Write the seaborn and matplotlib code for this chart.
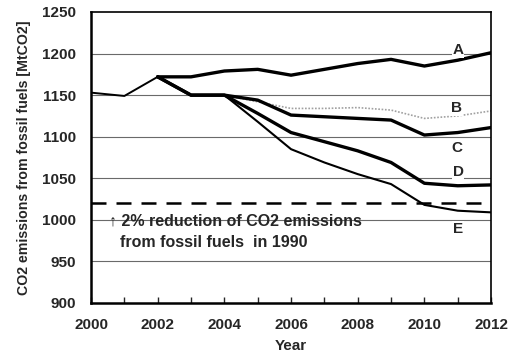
import matplotlib
matplotlib.use("Agg")
import matplotlib.pyplot as plt
import seaborn as sns
import pandas as pd

# Emissions history and scenario paths (MtCO2)
years_hist = [2000, 2001, 2002]
hist = [1153, 1149, 1172]

years_a = [2002, 2003, 2004, 2005, 2006, 2007, 2008, 2009, 2010, 2011, 2012]
scen_a = [1172, 1172, 1179, 1181, 1174, 1181, 1188, 1193, 1185, 1192, 1201]

years_be = [2002, 2003, 2004, 2005, 2006, 2007, 2008, 2009, 2010, 2011, 2012]
scen_b = [1172, 1150, 1150, 1142, 1134, 1134, 1135, 1132, 1122, 1125, 1131]
scen_c = [1172, 1150, 1150, 1144, 1126, 1124, 1122, 1120, 1102, 1105, 1111]
scen_d = [1172, 1150, 1150, 1128, 1105, 1094, 1083, 1069, 1044, 1041, 1042]
scen_e = [1172, 1150, 1150, 1118, 1085, 1069, 1055, 1043, 1018, 1011, 1009]

target_1990 = 1020.5
scenario_labels = ["A", "B", "C", "D", "E"]
label_pos = [(2010.85, 1204), (2010.8, 1134), (2010.8, 1086), (2010.85, 1057), (2010.85, 989)]

sns.set_theme(style="white")
plt.rcParams["font.family"] = ["Liberation Sans", "DejaVu Sans"]
plt.rcParams["font.weight"] = "bold"

fig = plt.figure(figsize=(5.18, 3.61), dpi=100)
ax = fig.add_axes([0.1757, 0.1607, 0.7723, 0.8061])

# horizontal grid
for v in [950, 1000, 1050, 1100, 1150, 1200]:
    ax.axhline(v, color="#6a6a6a", lw=0.8, zorder=0)

series = [
    (years_hist, hist, dict(color="black", lw=1.4)),
    (years_a, scen_a, dict(color="black", lw=2.4)),
    (years_be, scen_b, dict(color="#a0a0a0", lw=1.2, linestyle=(0, (1, 1)))),
    (years_be, scen_c, dict(color="black", lw=2.4)),
    (years_be, scen_d, dict(color="black", lw=2.4)),
    (years_be, scen_e, dict(color="black", lw=1.5)),
]
for xs, ys, kw in series:
    df = pd.DataFrame({"Year": xs, "Emission": ys})
    sns.lineplot(data=df, x="Year", y="Emission", ax=ax, legend=False, **kw)

ax.axhline(target_1990, color="black", lw=1.8, linestyle=(0, (6, 4)), zorder=3)

for lab, (x, y) in zip(scenario_labels, label_pos):
    ax.text(x, y, lab, fontsize=11, fontweight="bold", ha="left", va="center",
            bbox=dict(facecolor="white", edgecolor="none", pad=0.5))

ax.text(2000.55, 999, "\u2191 2% reduction of CO2 emissions",
        fontsize=11.5, fontweight="bold", ha="left", va="center",
        family=["Liberation Sans", "DejaVu Sans"])
ax.text(2000.88, 973, "from fossil fuels  in 1990",
        fontsize=11.5, fontweight="bold", ha="left", va="center")

ax.set_xlim(2000, 2012)
ax.set_ylim(900, 1250)
ax.set_xticks(range(2000, 2013, 2))
ax.set_xticks(range(2000, 2013), minor=True)
ax.set_yticks(range(900, 1251, 50))
ax.tick_params(axis="x", which="both", direction="in", length=4, width=1, bottom=True, labelsize=11, pad=11)
ax.tick_params(axis="y", length=0, labelsize=11, pad=11)
for lbl in ax.get_xticklabels() + ax.get_yticklabels():
    lbl.set_fontweight("bold")

ax.set_xlabel("Year", fontsize=11, fontweight="bold", labelpad=5)
ax.set_ylabel("CO2 emissions from fossil fuels [MtCO2]", fontsize=10.2, fontweight="bold", labelpad=8)

for side in ["left", "bottom"]:
    ax.spines[side].set_linewidth(1.8)
for side in ["top", "right"]:
    ax.spines[side].set_linewidth(1.2)
for s in ax.spines.values():
    s.set_color("black")
    s.set_visible(True)

fig.savefig("out.png", dpi=100)
